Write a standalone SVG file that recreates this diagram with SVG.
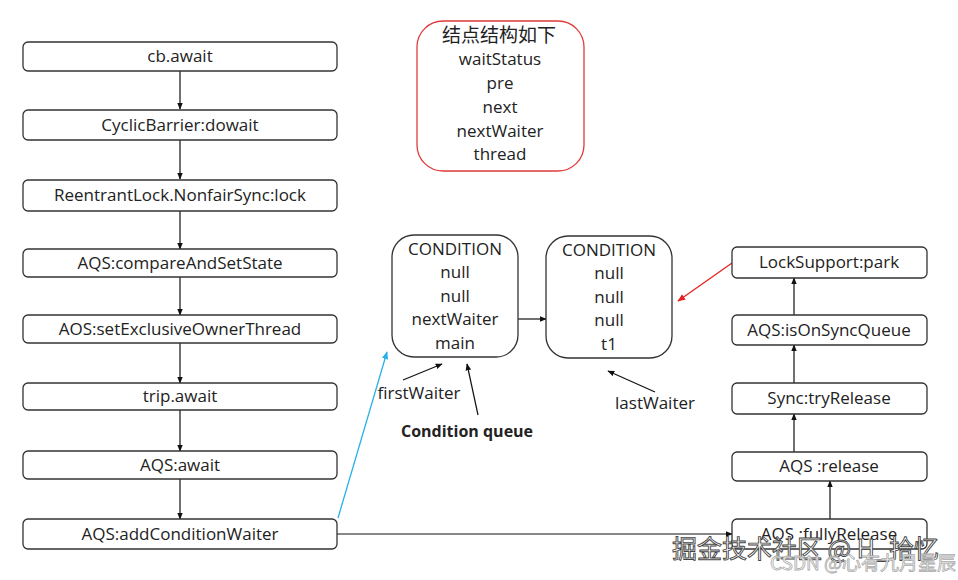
<svg xmlns="http://www.w3.org/2000/svg" width="958" height="580" viewBox="0 0 958 580">
<defs>
<style>
.box{fill:#fff;stroke:#333;stroke-width:1.3}
.t{font-family:"Open Sans","Liberation Sans",sans-serif;font-size:17px;fill:#222;text-anchor:middle}
.c{stroke:#111;stroke-width:1.2;fill:none}
.wm{font-family:"Noto Sans CJK SC","Open Sans",sans-serif}
</style>
<marker id="ah" viewBox="0 0 10 10" refX="9" refY="5" markerWidth="7" markerHeight="7" orient="auto" markerUnits="userSpaceOnUse"><path d="M0,1 L10,5 L0,9 z" fill="#111"/></marker>
<marker id="ahr" viewBox="0 0 10 10" refX="9" refY="5" markerWidth="8" markerHeight="8" orient="auto" markerUnits="userSpaceOnUse"><path d="M0,1 L10,5 L0,9 z" fill="#e52222"/></marker>
<marker id="ahb" viewBox="0 0 10 10" refX="9" refY="5" markerWidth="8" markerHeight="8" orient="auto" markerUnits="userSpaceOnUse"><path d="M0,1 L10,5 L0,9 z" fill="#2ab0e8"/></marker>
</defs>
<rect width="958" height="580" fill="#fff"/>

<g id="connectors">
<line class="c" x1="180" y1="71" x2="180" y2="109" marker-end="url(#ah)"/>
<line class="c" x1="180" y1="140" x2="180" y2="179" marker-end="url(#ah)"/>
<line class="c" x1="180" y1="211" x2="180" y2="249" marker-end="url(#ah)"/>
<line class="c" x1="180" y1="277" x2="180" y2="315" marker-end="url(#ah)"/>
<line class="c" x1="180" y1="343" x2="180" y2="383" marker-end="url(#ah)"/>
<line class="c" x1="180" y1="410" x2="180" y2="451" marker-end="url(#ah)"/>
<line class="c" x1="180" y1="479" x2="180" y2="519" marker-end="url(#ah)"/>
<line class="c" x1="337" y1="534" x2="732" y2="534" marker-end="url(#ah)"/>
<line x1="338" y1="518" x2="387" y2="352" stroke="#2ab0e8" stroke-width="1.3" marker-end="url(#ahb)"/>
<line class="c" x1="830" y1="519" x2="830" y2="481" marker-end="url(#ah)"/>
<line class="c" x1="794" y1="452" x2="794" y2="414" marker-end="url(#ah)"/>
<line class="c" x1="794" y1="383" x2="794" y2="345" marker-end="url(#ah)"/>
<line class="c" x1="794" y1="315" x2="794" y2="278" marker-end="url(#ah)"/>
<line x1="732" y1="263" x2="678" y2="301" stroke="#e52222" stroke-width="1.3" marker-end="url(#ahr)"/>
<line class="c" x1="518" y1="319" x2="546" y2="319" marker-end="url(#ah)"/>
<line class="c" x1="403" y1="380" x2="442" y2="364" marker-end="url(#ah)"/>
<line class="c" x1="478" y1="415" x2="467" y2="364" marker-end="url(#ah)"/>
<line class="c" x1="655" y1="392" x2="608" y2="371" marker-end="url(#ah)"/>
</g>

<g id="n-cb-await"><rect class="box" x="23" y="42" width="314" height="29" rx="5"/><text class="t" x="180" y="62">cb.await</text></g>
<g id="n-dowait"><rect class="box" x="23" y="110" width="314" height="30" rx="5"/><text class="t" x="180" y="131">CyclicBarrier:dowait</text></g>
<g id="n-lock"><rect class="box" x="23" y="180" width="314" height="31" rx="5"/><text class="t" x="180" y="201">ReentrantLock.NonfairSync:lock</text></g>
<g id="n-cas"><rect class="box" x="23" y="249" width="314" height="28" rx="5"/><text class="t" x="180" y="269">AQS:compareAndSetState</text></g>
<g id="n-setowner"><rect class="box" x="23" y="315" width="314" height="28" rx="5"/><text class="t" x="180" y="335">AOS:setExclusiveOwnerThread</text></g>
<g id="n-trip"><rect class="box" x="23" y="383" width="314" height="27" rx="5"/><text class="t" x="180" y="402">trip.await</text></g>
<g id="n-aqs-await"><rect class="box" x="23" y="451" width="314" height="28" rx="5"/><text class="t" x="180" y="471">AQS:await</text></g>
<g id="n-addcw"><rect class="box" x="23" y="519" width="314" height="30" rx="5"/><text class="t" x="180" y="540">AQS:addConditionWaiter</text></g>

<g id="n-struct"><rect x="417" y="21" width="167" height="150" rx="26" fill="#fff" stroke="#e03a3a" stroke-width="1.3"/>
<text class="t" x="499" y="42" style="font-family:'Noto Sans CJK SC',sans-serif;font-size:19px">结点结构如下</text>
<text class="t" x="500" y="65">waitStatus</text>
<text class="t" x="500" y="89">pre</text>
<text class="t" x="500" y="113">next</text>
<text class="t" x="500" y="137">nextWaiter</text>
<text class="t" x="500" y="160">thread</text></g>

<g id="n-cond1"><rect class="box" x="392" y="235" width="126" height="122" rx="22"/>
<text class="t" x="455" y="255">CONDITION</text>
<text class="t" x="455" y="278">null</text>
<text class="t" x="455" y="302">null</text>
<text class="t" x="455" y="325">nextWaiter</text>
<text class="t" x="455" y="349">main</text></g>

<g id="n-cond2"><rect class="box" x="546" y="236" width="126" height="122" rx="22"/>
<text class="t" x="609" y="256">CONDITION</text>
<text class="t" x="609" y="279">null</text>
<text class="t" x="609" y="303">null</text>
<text class="t" x="609" y="326">null</text>
<text class="t" x="609" y="350">t1</text></g>

<g id="l-first"><text class="t" x="419" y="399">firstWaiter</text></g>
<g id="l-cq"><text class="t" x="467" y="437" style="font-weight:bold;font-size:16px">Condition queue</text></g>
<g id="l-last"><text class="t" x="655" y="409">lastWaiter</text></g>

<g id="n-park"><rect class="box" x="732" y="247" width="195" height="31" rx="5"/><text class="t" x="829" y="268">LockSupport:park</text></g>
<g id="n-onsync"><rect class="box" x="732" y="315" width="195" height="30" rx="5"/><text class="t" x="829" y="336">AQS:isOnSyncQueue</text></g>
<g id="n-tryrel"><rect class="box" x="732" y="383" width="195" height="31" rx="5"/><text class="t" x="829" y="404">Sync:tryRelease</text></g>
<g id="n-release"><rect class="box" x="732" y="452" width="195" height="29" rx="5"/><text class="t" x="829" y="472">AQS :release</text></g>
<g id="n-fullrel"><rect class="box" x="732" y="519" width="195" height="30" rx="5"/><text class="t" x="829" y="540">AQS :fullyRelease</text></g>

<g id="watermark">
<text class="wm" x="672" y="558" font-size="25" fill="#fff" stroke="#444" stroke-width="0.9">掘金技术社区 @ H_拾忆</text>
<text class="wm" x="770" y="570" font-size="19" fill="#fff" stroke="#aaa" stroke-width="0.8">CSDN @心有九月星辰</text>
</g>
</svg>
